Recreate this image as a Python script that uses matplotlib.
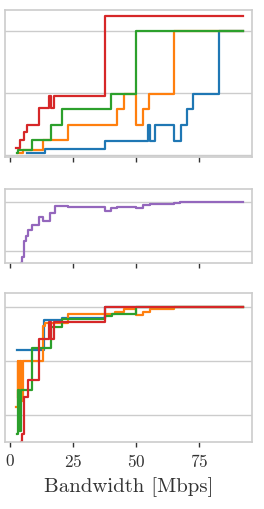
import matplotlib
matplotlib.use('Agg')
import matplotlib.pyplot as plt

# top panel
blue_top_x = [6.6, 13.9, 37.6, 54.8, 55.5, 57.5, 65.0, 67.6, 70.0, 72.7, 82.8, 92.2]
blue_top_y = [0.04, 0.10, 0.23, 0.49, 0.23, 0.49, 0.23, 0.49, 0.75, 0.99, 2.0, 2.0]
orange_top_x = [3.3, 5.3, 13.2, 23.1, 42.3, 45.2, 49.9, 52.6, 55.1, 65.0, 92.2]
orange_top_y = [0.03, 0.085, 0.25, 0.49, 0.75, 0.99, 0.49, 0.75, 0.99, 2.01, 2.01]
green_top_x = [2.6, 3.3, 8.6, 16.1, 20.5, 40.0, 49.9, 92.2]
green_top_y = [0.03, 0.09, 0.25, 0.49, 0.75, 0.99, 2.0, 2.0]
red_top_x = [2.4, 4.0, 5.5, 6.9, 11.6, 15.5, 16.3, 17.5, 37.6, 92.2]
red_top_y = [0.12, 0.25, 0.38, 0.48, 0.76, 0.96, 0.76, 0.96, 2.25, 2.25]

# middle panel
purple_x = [4.2, 4.6, 5.5, 6.3, 7.3, 8.6, 11.6, 13.2, 15.9, 17.8, 23.1, 37.6, 40.0,
            42.5, 49.9, 52.6, 55.5, 65.0, 67.4, 92.2]
purple_y = [-0.24, -0.13, 0.21, 0.31, 0.42, 0.52, 0.69, 0.60, 0.76, 0.91, 0.89, 0.81,
            0.86, 0.89, 0.87, 0.93, 0.95, 0.98, 1.0, 1.0]

# bottom panel
blue_bot_x = [2.6, 13.6, 20.5, 37.6, 92.2]
blue_bot_y = [1.20, 1.75, 1.79, 2.0, 2.0]
orange_bot_x = [2.4, 3.0, 3.2, 3.5, 3.7, 4.0, 4.3, 4.6, 4.9, 5.3, 5.8, 13.2, 13.9, 23.1,
                41.7, 45.0, 50.0, 52.9, 55.5, 65.0, 92.2]
orange_bot_y = [0.14, 0.99, 0.3, 0.99, 0.2, 0.99, 0.35, 0.99, 0.25, 0.99, 0.99, 1.65,
                1.70, 1.87, 1.91, 1.95, 1.85, 1.91, 1.95, 2.0, 2.0]
green_bot_x = [2.6, 3.1, 3.6, 4.2, 8.6, 16.1, 20.5, 37.7, 40.3, 50.0, 92.2]
green_bot_y = [-0.35, 0.45, -0.3, 0.45, 1.23, 1.62, 1.77, 1.83, 1.87, 2.0, 2.0]
red_bot_x = [4.2, 4.6, 5.5, 7.3, 11.6, 15.5, 16.3, 17.5, 37.6, 92.2]
red_bot_y = [-0.5, -0.35, 0.33, 0.64, 1.41, 1.72, 1.41, 1.72, 2.0, 2.0]

xticks = [0, 25, 50, 75]

plt.rcParams['font.family'] = 'cmr10'
plt.rcParams['axes.formatter.use_mathtext'] = True

fig = plt.figure(figsize=(2.64, 5.1), dpi=100)
ax_top = fig.add_axes([0.019, 0.690, 0.936, 0.288])
ax_mid = fig.add_axes([0.019, 0.482, 0.936, 0.145])
ax_bot = fig.add_axes([0.019, 0.131, 0.936, 0.293])

lw = 1.6
ax_top.step(blue_top_x, blue_top_y, where='post', color='tab:blue', lw=lw)
ax_top.step(orange_top_x, orange_top_y, where='post', color='tab:orange', lw=lw)
ax_top.step(green_top_x, green_top_y, where='post', color='tab:green', lw=lw)
ax_top.step(red_top_x, red_top_y, where='post', color='tab:red', lw=lw)
ax_top.set_ylim(-0.03, 2.34)
ax_top.set_yticks([0, 1, 2])

ax_mid.step(purple_x, purple_y, where='post', color='tab:purple', lw=lw)
ax_mid.set_ylim(-0.25, 1.25)
ax_mid.set_yticks([0, 1])

ax_bot.step(blue_bot_x, blue_bot_y, where='post', color='tab:blue', lw=lw)
ax_bot.step(orange_bot_x, orange_bot_y, where='post', color='tab:orange', lw=lw)
ax_bot.step(green_bot_x, green_bot_y, where='post', color='tab:green', lw=lw)
ax_bot.step(red_bot_x, red_bot_y, where='post', color='tab:red', lw=lw)
ax_bot.set_ylim(-0.51, 2.26)
ax_bot.set_yticks([0, 1, 2])

for ax in [ax_top, ax_mid, ax_bot]:
    ax.set_xlim(-2, 96)
    ax.set_xticks(xticks)
    ax.grid(axis='y', color='#cccccc', lw=1)
    ax.set_axisbelow(True)
    for s in ax.spines.values():
        s.set_color('#cccccc')
        s.set_linewidth(1.2)
    ax.tick_params(axis='y', left=False, labelleft=False)
    ax.tick_params(axis='x', length=3.5, width=1, color='#333333', labelsize=12.5,
                   labelcolor='#333333')

ax_top.tick_params(axis='x', labelbottom=False)
ax_mid.tick_params(axis='x', labelbottom=False)
ax_bot.set_xlabel('Bandwidth [Mbps]', fontsize=15, color='#333333', labelpad=5)

plt.savefig('out.png', dpi=100)
